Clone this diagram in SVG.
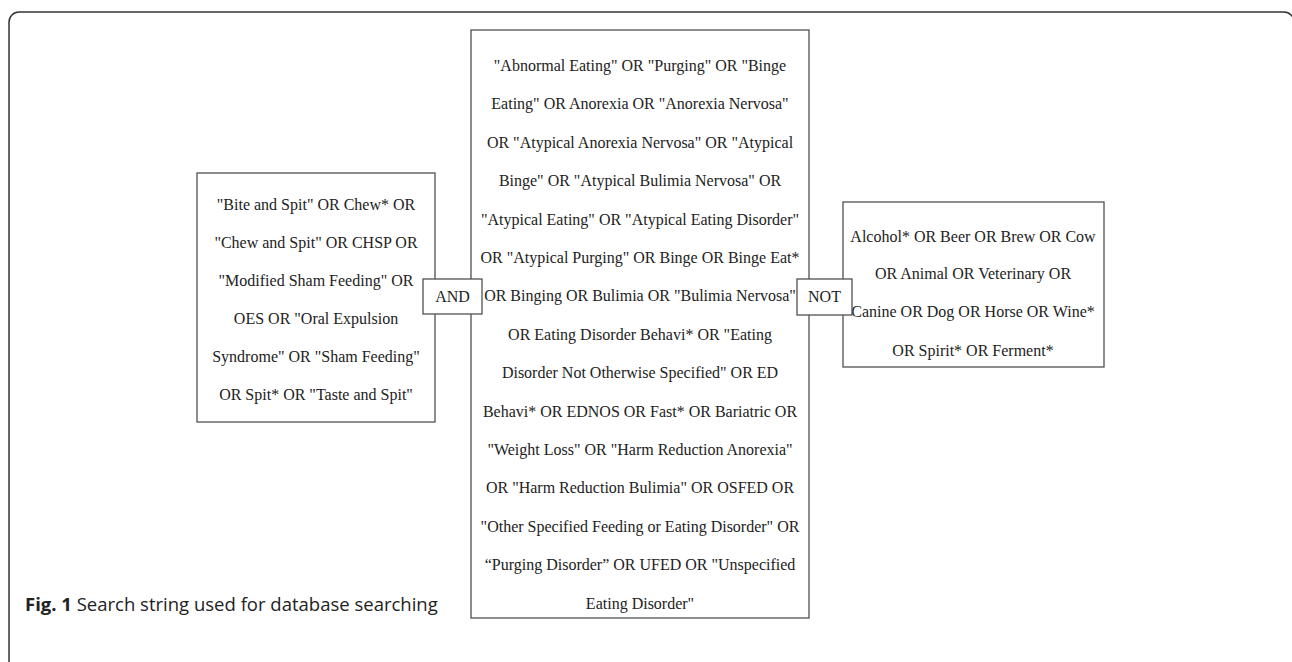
<svg xmlns="http://www.w3.org/2000/svg" width="1292" height="662" viewBox="0 0 1292 662">
<style>
.box{fill:#fff;stroke:#505050;stroke-width:1.3}
.t{font-family:"Liberation Serif","Times New Roman",serif;font-size:16px;fill:#222;text-anchor:middle}
.frame{fill:none;stroke:#333;stroke-width:1.5}
.cap{font-family:"Open Sans","Noto Sans",sans-serif;font-size:18.5px;fill:#222}
</style>
<rect width="1292" height="662" fill="#fff"/>
<path class="frame" d="M9,662 V22 A10,10 0 0 1 19,12 H1284 A10,10 0 0 1 1294,22"/>
<g id="left">
<rect class="box" x="197" y="173" width="238" height="249"/>
<g class="t">
<text x="316" y="210">"Bite and Spit" OR Chew* OR</text>
<text x="316" y="248">"Chew and Spit" OR CHSP OR</text>
<text x="316" y="286">"Modified Sham Feeding" OR</text>
<text x="316" y="324">OES OR "Oral Expulsion</text>
<text x="316" y="362">Syndrome" OR "Sham Feeding"</text>
<text x="316" y="400">OR Spit* OR "Taste and Spit"</text>
</g>
</g>
<g id="center">
<rect class="box" x="471" y="30" width="338" height="588"/>
<g class="t">
<text x="640" y="71">"Abnormal Eating" OR "Purging" OR "Binge</text>
<text x="640" y="109.4">Eating" OR Anorexia OR "Anorexia Nervosa"</text>
<text x="640" y="147.8">OR "Atypical Anorexia Nervosa" OR "Atypical</text>
<text x="640" y="186.2">Binge" OR "Atypical Bulimia Nervosa" OR</text>
<text x="640" y="224.6">"Atypical Eating" OR "Atypical Eating Disorder"</text>
<text x="640" y="263">OR "Atypical Purging" OR Binge OR Binge Eat*</text>
<text x="640" y="301.4">OR Binging OR Bulimia OR "Bulimia Nervosa"</text>
<text x="640" y="339.8">OR Eating Disorder Behavi* OR "Eating</text>
<text x="640" y="378.2">Disorder Not Otherwise Specified" OR ED</text>
<text x="640" y="416.6">Behavi* OR EDNOS OR Fast* OR Bariatric OR</text>
<text x="640" y="455">"Weight Loss" OR "Harm Reduction Anorexia"</text>
<text x="640" y="493.4">OR "Harm Reduction Bulimia" OR OSFED OR</text>
<text x="640" y="531.8">"Other Specified Feeding or Eating Disorder" OR</text>
<text x="640" y="570.2">“Purging Disorder” OR UFED OR "Unspecified</text>
<text x="640" y="608.6">Eating Disorder"</text>
</g>
</g>
<g id="right">
<rect class="box" x="843" y="202" width="261" height="165"/>
<g class="t">
<text x="973" y="242">Alcohol* OR Beer OR Brew OR Cow</text>
<text x="973" y="279">OR Animal OR Veterinary OR</text>
<text x="973" y="317">Canine OR Dog OR Horse OR Wine*</text>
<text x="973" y="356">OR Spirit* OR Ferment*</text>
</g>
</g>
<g id="connectors">
<g id="and">
<rect class="box" x="423" y="279" width="59" height="35"/>
<text class="t" x="452.5" y="302">AND</text>
</g>
<g id="not">
<rect class="box" x="797" y="279" width="55" height="36"/>
<text class="t" x="824.5" y="302">NOT</text>
</g>
</g>
<text class="cap" x="25" y="611"><tspan font-weight="bold">Fig. 1</tspan> Search string used for database searching</text>
</svg>
